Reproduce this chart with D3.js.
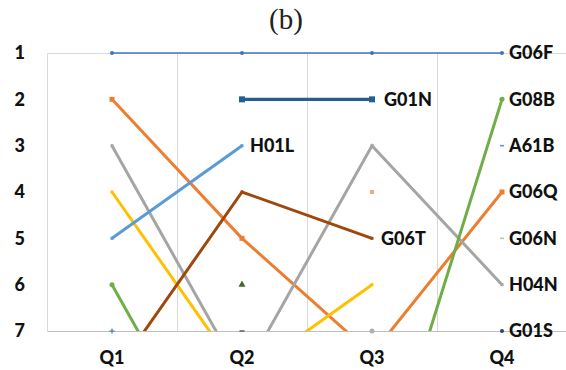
<!DOCTYPE html>
<html>
<head>
<meta charset="utf-8">
<script src="https://cdn.jsdelivr.net/npm/d3@7"></script>
<style>
  html, body { margin: 0; padding: 0; background: #ffffff; }
  svg { display: block; }
</style>
</head>
<body>
<svg id="chart" width="566" height="370"></svg>
<script>
// Quarterly rank of each patent class (1 = top). Ranks past 7 run off the bottom.
const quarters = ["Q1", "Q2", "Q3", "Q4"];
const rankTicks = [1, 2, 3, 4, 5, 6, 7];

const g06f = [1, 1, 1, 1];
const g01n = [null, 2, 2, null];
const h01l = [5, 3, null, null];
const g06t = [8, 4, 5, null];
const g06q = [2, 5, 7.5, 4];
const h04n = [3, 8, 3, 6];
const s07  = [4, 8, 6, null];
const g08b = [6, 11, 11, 2];
const a61b = [null, null, null, 3];
const g06n = [null, null, null, 5];
const g01s = [null, null, null, 7];
const s12  = [7, null, null, null];
const s13  = [null, 6, null, null];
const s14  = [null, 7, null, null];
const s15  = [null, null, 4, null];
const s16  = [null, null, 7, null];

// Drawing style per series
const series = [
  { values: s12,  color: "#4472C4", width: 0,   marker: "plus",     msize: 5, label: null },
  { values: s13,  color: "#43682B", width: 0,   marker: "triangle", msize: 6, label: null },
  { values: s14,  color: "#636363", width: 0,   marker: "dash",     msize: 5, label: null },
  { values: s15,  color: "#F4A57A", width: 0,   marker: "square",   msize: 4, label: null },
  { values: s16,  color: "#B0B0B0", width: 0,   marker: "circle",   msize: 5, label: null },
  { values: g06f, color: "#4472C4", width: 1.5, marker: "circle",   msize: 4, label: "G06F", gap: 7 },
  { values: g06q, color: "#ED7D31", width: 3,   marker: "square",   msize: 5, label: "G06Q", gap: 7 },
  { values: h04n, color: "#A5A5A5", width: 3,   marker: "square",   msize: 3, label: "H04N", gap: 7 },
  { values: s07,  color: "#FFC000", width: 3,   marker: "square",   msize: 3, label: null },
  { values: h01l, color: "#5B9BD5", width: 3,   marker: "square",   msize: 3, label: "H01L", gap: 8 },
  { values: g08b, color: "#70AD47", width: 3,   marker: "circle",   msize: 5, label: "G08B", gap: 7 },
  { values: g01n, color: "#255E91", width: 3.4, marker: "square",   msize: 6, label: "G01N", gap: 12 },
  { values: g06t, color: "#9E480E", width: 3,   marker: "square",   msize: 3, label: "G06T", gap: 9 },
  { values: a61b, color: "#5B9BD5", width: 0,   marker: "dash",     msize: 4, label: "A61B", gap: 7 },
  { values: g06n, color: "#A9D18E", width: 0,   marker: "dash",     msize: 4, label: "G06N", gap: 7 },
  { values: g01s, color: "#264478", width: 0,   marker: "circle",   msize: 4, label: "G01S", gap: 7 }
];

const svg = d3.select("#chart");
const plot = { left: 47, right: 567, top: 53, bottom: 331 };
const labelFont = "Lato, 'Liberation Sans', sans-serif";

const x = d3.scaleBand().domain(quarters).range([plot.left, plot.right]).padding(0);
const cx = q => x(q) + x.bandwidth() / 2;
const y = d3.scaleLinear().domain([1, 7]).range([plot.top, plot.bottom]);

// Title
svg.append("text")
  .attr("x", 286).attr("y", 29)
  .attr("text-anchor", "middle")
  .style("font-family", "'Liberation Serif', 'DejaVu Serif', serif")
  .style("font-size", "29px")
  .attr("fill", "#222")
  .text("(b)");

// Frame and category gridlines
const grid = svg.append("g").attr("stroke", "#d9d9d9").attr("stroke-width", 1).attr("shape-rendering", "crispEdges");
grid.append("line").attr("x1", plot.left).attr("x2", plot.right).attr("y1", plot.top).attr("y2", plot.top);
grid.selectAll("line.v")
  .data(quarters)
  .join("line").attr("class", "v")
  .attr("x1", d => x(d)).attr("x2", d => x(d))
  .attr("y1", plot.top).attr("y2", plot.bottom);

// Rank axis labels
const yAxis = svg.append("g")
  .attr("transform", `translate(${plot.left - 22},0)`)
  .call(d3.axisLeft(y).tickValues(rankTicks).tickSize(0).tickPadding(0).tickFormat(d3.format("d")));
yAxis.select(".domain").remove();
yAxis.selectAll("text")
  .style("font-family", labelFont)
  .style("font-weight", "900")
  .style("font-size", "18px")
  .attr("fill", "#111");

// Quarter axis
const xAxis = svg.append("g")
  .attr("transform", `translate(0,${plot.bottom})`)
  .call(d3.axisBottom(x).tickSize(0).tickPadding(20));
xAxis.select(".domain").attr("stroke", "#bfbfbf").attr("stroke-width", 1.2);
xAxis.selectAll("text")
  .style("font-family", labelFont)
  .style("font-weight", "900")
  .style("font-size", "18px")
  .attr("fill", "#111");

// Lines are clipped at the bottom of the rank range
svg.append("defs").append("clipPath").attr("id", "plotClip")
  .append("rect")
  .attr("x", plot.left).attr("y", 0)
  .attr("width", plot.right - plot.left).attr("height", plot.bottom);

const line = d3.line()
  .defined(d => d.v != null)
  .x(d => cx(d.q))
  .y(d => y(d.v));

const pts = s => quarters.map((q, i) => ({ q, v: s.values[i] }));

const lines = svg.append("g").attr("clip-path", "url(#plotClip)");
series.filter(s => s.width > 0).forEach(s => {
  lines.append("path")
    .datum(pts(s))
    .attr("fill", "none")
    .attr("stroke", s.color)
    .attr("stroke-width", s.width)
    .attr("stroke-linejoin", "miter")
    .attr("d", line);
});

// Markers
function markerPath(kind, size) {
  const h = size / 2;
  switch (kind) {
    case "square": return `M${-h},${-h}H${h}V${h}H${-h}Z`;
    case "circle": return d3.symbol(d3.symbolCircle, size * size * 0.8)();
    case "triangle": return d3.symbol(d3.symbolTriangle, size * size * 0.6)();
    case "dash": return `M${-h},-0.8H${h}V0.8H${-h}Z`;
    case "plus": return `M${-h},-0.6H${h}V0.6H${-h}Z M-0.6,${-h}H0.6V${h}H-0.6Z`;
  }
}

const markers = svg.append("g");
series.forEach(s => {
  pts(s).filter(d => d.v != null && d.v <= 7).forEach(d => {
    markers.append("path")
      .attr("transform", `translate(${cx(d.q)},${y(d.v)})`)
      .attr("d", markerPath(s.marker, s.msize))
      .attr("fill", s.color);
  });
});

// End labels at each series' last point
const labels = svg.append("g")
  .style("font-family", labelFont)
  .style("font-weight", "900")
  .style("font-size", "18px")
  .attr("fill", "#111");
series.filter(s => s.label).forEach(s => {
  const p = pts(s).filter(d => d.v != null);
  const last = p[p.length - 1];
  labels.append("text")
    .attr("x", cx(last.q) + s.gap)
    .attr("y", y(last.v))
    .attr("dy", "0.36em")
    .text(s.label);
});
</script>
</body>
</html>
